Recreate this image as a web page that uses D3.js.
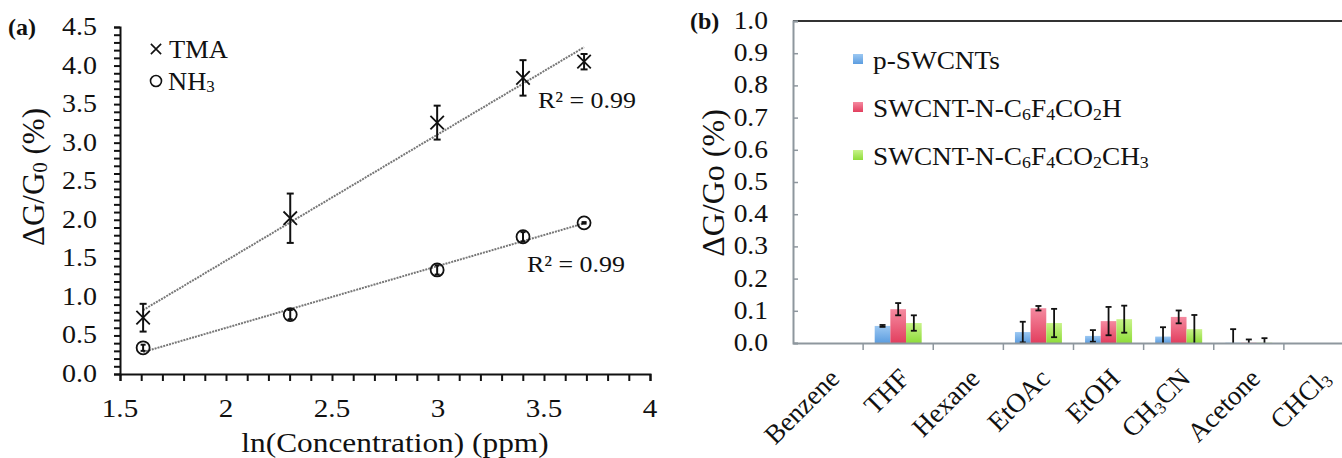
<!DOCTYPE html>
<html><head><meta charset="utf-8">
<script src="https://cdn.jsdelivr.net/npm/d3@7"></script>
<style>
html,body{margin:0;padding:0;background:#fff;}
svg{display:block;font-family:"Liberation Serif","Times New Roman",serif;}
</style></head>
<body>
<svg id="chart" width="1342" height="458"></svg>
<script>
// ---------- Panel (a) data ----------
const lnConc = [1.609, 2.303, 2.996, 3.401, 3.689];
const tmaY   = [0.73, 2.02, 3.26, 3.84, 4.05];
const tmaErr = [0.18, 0.32, 0.22, 0.23, 0.10];
const nh3Y   = [0.34, 0.77, 1.35, 1.78, 1.96];
const nh3Err = [0.04, 0.06, 0.06, 0.06, 0.01];
const aXTicks = [1.5, 2, 2.5, 3, 3.5, 4];
const aXTickLabels = ["1.5", "2", "2.5", "3", "3.5", "4"];
const aYTicks = [0, 0.5, 1, 1.5, 2, 2.5, 3, 3.5, 4, 4.5];
const aYTickLabels = ["0.0","0.5","1.0","1.5","2.0","2.5","3.0","3.5","4.0","4.5"];
const r2Labels = ["R² = 0.99", "R² = 0.99"];

// ---------- Panel (b) data ----------
const solvents = ["Benzene", "THF", "Hexane", "EtOAc", "EtOH", "CH3CN", "Acetone", "CHCl3"];
const seriesNames = ["p-SWCNTs", "SWCNT-N-C6F4CO2H", "SWCNT-N-C6F4CO2CH3"];
const pSWCNT    = [0, 0.053, 0, 0.034, 0.022, 0.020, 0.001, 0];
const swcntCOOH = [0, 0.105, 0, 0.108, 0.068, 0.081, 0.001, 0];
const swcntCOOMe= [0, 0.062, 0, 0.062, 0.074, 0.043, 0.001, 0];
const pSWCNTErr    = [null, 0.003, null, 0.032, 0.018, 0.029, 0.042, null];
const swcntCOOHErr = [null, 0.019, null, 0.007, 0.044, 0.020, 0.010, null];
const swcntCOOMeErr= [null, 0.024, null, 0.044, 0.042, 0.044, 0.014, null];
const bYTicks = [0,0.1,0.2,0.3,0.4,0.5,0.6,0.7,0.8,0.9,1.0];

const svg = d3.select("#chart");
const defs = svg.append("defs");

// helper: text with subscript digits (chemistry style)
function richText(sel, str, size, subSize){
  const parts = [];
  for (let i = 0; i < str.length; i++){
    const c = str[i];
    if (/[0-9]/.test(c) && i>0 && /[A-Za-z]/.test(str[i-1])){
      parts.push({t:c, sub:true});
    } else {
      if (parts.length && !parts[parts.length-1].sub) parts[parts.length-1].t += c;
      else parts.push({t:c, sub:false});
    }
  }
  let shifted = false;
  parts.forEach(p => {
    const ts = sel.append("tspan").text(p.t);
    if (p.sub){ ts.attr("font-size", subSize); if(!shifted){ts.attr("dy", size*0.12); shifted = true;} }
    else { ts.attr("font-size", size); if(shifted){ts.attr("dy", -size*0.12); shifted=false;} }
  });
}

// ======================= PANEL (a) =======================
const ax = d3.scaleLinear().domain([1.5, 4]).range([120, 650]);
const ay = d3.scaleLinear().domain([0, 4.5]).range([374, 27]);
const ga = svg.append("g");

const xAxisA = d3.axisBottom(ax).tickValues(d3.range(15, 41).map(d => d/10)).tickSize(7).tickFormat("");
const gxa = ga.append("g").attr("transform", `translate(0,${ay(0)})`).call(xAxisA);
gxa.select(".domain").attr("stroke", "#111").attr("stroke-width", 2);
gxa.selectAll(".tick line").attr("stroke", "#111").attr("stroke-width", 2);

const yAxisA = d3.axisLeft(ay).tickValues(d3.range(0, 46).map(d => d/10)).tickSize(6).tickFormat("");
const gya = ga.append("g").attr("transform", `translate(${ax(1.5)},0)`).call(yAxisA);
gya.select(".domain").attr("stroke", "#111").attr("stroke-width", 2);
gya.selectAll(".tick line").attr("stroke", "#111").attr("stroke-width", 2);

ga.selectAll(".xtl").data(aXTicks).enter().append("text")
  .attr("transform", d => `translate(${ax(d)},417) scale(1.12,1)`)
  .attr("text-anchor", "middle").attr("font-size", 26).attr("fill", "#111")
  .text((d,i) => aXTickLabels[i]);
ga.selectAll(".ytl").data(aYTicks).enter().append("text")
  .attr("transform", d => `translate(97,${ay(d)+8}) scale(1.12,1)`)
  .attr("text-anchor", "end").attr("font-size", 25).attr("fill", "#111")
  .text((d,i) => aYTickLabels[i]);

ga.append("text").attr("transform", "translate(395,452) scale(1.12,1)")
  .attr("text-anchor", "middle").attr("font-size", 28).attr("fill", "#111")
  .text("ln(Concentration) (ppm)");
const ytA = ga.append("text").attr("transform", "translate(44,177) rotate(-90)")
  .attr("text-anchor", "middle").attr("fill", "#111");
ytA.append("tspan").attr("font-size", 31).text("ΔG/G");
ytA.append("tspan").attr("font-size", 21).attr("dy", 3).text("0");
ytA.append("tspan").attr("font-size", 31).attr("dy", -3).text(" (%)");

svg.append("text").attr("x", 8).attr("y", 35).attr("font-size", 24).attr("font-weight", "bold")
  .attr("fill", "#111").text("(a)");

// regression lines (least squares on the data, as in the source spreadsheet)
function fit(xs, ys){
  const mx = d3.mean(xs), my = d3.mean(ys);
  let sxy = 0, sxx = 0;
  xs.forEach((x,i) => { sxy += (x-mx)*(ys[i]-my); sxx += (x-mx)*(x-mx); });
  const m = sxy/sxx; return {m, b: my - m*mx};
}
[tmaY, nh3Y].forEach(ys => {
  const f = fit(lnConc, ys);
  const x0 = d3.min(lnConc), x1 = d3.max(lnConc);
  ga.append("line").attr("x1", ax(x0)).attr("y1", ay(f.m*x0+f.b))
    .attr("x2", ax(x1)).attr("y2", ay(f.m*x1+f.b))
    .attr("stroke", "#777").attr("stroke-width", 2).attr("stroke-dasharray", "2,1");
});

function errBars(g, xs, ys, es, cap){
  xs.forEach((x,i) => {
    const top = ay(ys[i]+es[i]), bot = ay(ys[i]-es[i]), cx = ax(x);
    g.append("line").attr("x1",cx).attr("x2",cx).attr("y1",top).attr("y2",bot).attr("stroke","#111").attr("stroke-width",2);
    g.append("line").attr("x1",cx-cap).attr("x2",cx+cap).attr("y1",top).attr("y2",top).attr("stroke","#111").attr("stroke-width",2);
    g.append("line").attr("x1",cx-cap).attr("x2",cx+cap).attr("y1",bot).attr("y2",bot).attr("stroke","#111").attr("stroke-width",2);
  });
}
errBars(ga, lnConc, tmaY, tmaErr, 3.5);
errBars(ga, lnConc, nh3Y, nh3Err, 2.5);

const xSym = d3.symbol().type(d3.symbolTimes).size(120);
ga.selectAll(".tma").data(lnConc).enter().append("path")
  .attr("d", xSym).attr("transform", (d,i) => `translate(${ax(d)},${ay(tmaY[i])})`)
  .attr("fill", "none").attr("stroke", "#111").attr("stroke-width", 1.8);
ga.selectAll(".nh3").data(lnConc).enter().append("circle")
  .attr("cx", d => ax(d)).attr("cy", (d,i) => ay(nh3Y[i])).attr("r", 6.5)
  .attr("fill", "none").attr("stroke", "#111").attr("stroke-width", 1.8);

ga.append("text").attr("transform", "translate(538,108) scale(1.08,1)").attr("font-size", 24).attr("fill", "#111").text(r2Labels[0]);
ga.append("text").attr("transform", "translate(527,272) scale(1.08,1)").attr("font-size", 24).attr("fill", "#111").text(r2Labels[1]);

// legend (a)
ga.append("path").attr("d", d3.symbol().type(d3.symbolTimes).size(70)).attr("transform", "translate(156,49)")
  .attr("fill","none").attr("stroke","#111").attr("stroke-width",1.6);
ga.append("text").attr("transform", "translate(169,58) scale(1.06,1)").attr("font-size", 25).attr("fill","#111").text("TMA");
ga.append("circle").attr("cx",156).attr("cy",81).attr("r",5.5).attr("fill","none").attr("stroke","#111").attr("stroke-width",1.6);
const nl = ga.append("text").attr("transform", "translate(168,90) scale(1.06,1)").attr("fill","#111");
nl.append("tspan").attr("font-size",25).text("NH");
nl.append("tspan").attr("font-size",16).attr("dy",2).text("3");

// ======================= PANEL (b) =======================
const bx = d3.scaleBand().domain(solvents).range([793, 1354]).padding(0);
const by = d3.scaleLinear().domain([0, 1]).range([343, 21]);
const bw = bx.bandwidth();
const bSub = d3.scaleBand().domain(seriesNames).range([bw*0.165, bw*0.835]).padding(0);
const gb = svg.append("g");

const colors = [["#9cc8f2","#5c9de0"],["#f58aa0","#e23e5e"],["#c8f38a","#8fdc3a"]];
colors.forEach((c,i) => {
  const lg = defs.append("linearGradient").attr("id","grad"+i).attr("x1",0).attr("y1",0).attr("x2",0).attr("y2",1);
  lg.append("stop").attr("offset","0%").attr("stop-color",c[0]);
  lg.append("stop").attr("offset","100%").attr("stop-color",c[1]);
});
defs.append("clipPath").attr("id","bclip").append("rect").attr("x",793).attr("y",0).attr("width",560).attr("height",343);

gb.append("line").attr("x1",793).attr("x2",1342).attr("y1",by(1)).attr("y2",by(1)).attr("stroke","#333").attr("stroke-width",2.2);

const yAxisB = d3.axisRight(by).tickValues(bYTicks).tickSize(5).tickFormat("");
const gyb = gb.append("g").attr("transform","translate(793,0)").call(yAxisB);
gyb.select(".domain").attr("stroke","#8e979e").attr("stroke-width",2);
gyb.selectAll(".tick line").attr("stroke","#8e979e").attr("stroke-width",1.5);
gb.selectAll(".bytl").data(bYTicks).enter().append("text")
  .attr("transform", d => `translate(768,${by(d)+8}) scale(1.1,1)`)
  .attr("text-anchor","end").attr("font-size",25).attr("fill","#111")
  .text(d => d.toFixed(1));

const seriesVals = [pSWCNT, swcntCOOH, swcntCOOMe];
const seriesErrs = [pSWCNTErr, swcntCOOHErr, swcntCOOMeErr];
const bars = gb.append("g").attr("clip-path","url(#bclip)");
seriesVals.forEach((vals, si) => {
  bars.selectAll(".bar"+si).data(solvents).enter().append("rect")
    .attr("x", d => bx(d) + bSub(seriesNames[si]))
    .attr("width", bSub.bandwidth())
    .attr("y", (d,i) => by(vals[i]))
    .attr("height", (d,i) => by(0) - by(vals[i]))
    .attr("fill", `url(#grad${si})`);
});
seriesVals.forEach((vals, si) => {
  const errs = seriesErrs[si];
  solvents.forEach((s,i) => {
    if (errs[i] == null) return;
    const cx = bx(s) + bSub(seriesNames[si]) + bSub.bandwidth()/2;
    const top = by(vals[i]+errs[i]), bot = by(Math.max(0, vals[i]-errs[i]));
    bars.append("line").attr("x1",cx).attr("x2",cx).attr("y1",top).attr("y2",bot).attr("stroke","#111").attr("stroke-width",1.8);
    bars.append("line").attr("x1",cx-3).attr("x2",cx+3).attr("y1",top).attr("y2",top).attr("stroke","#111").attr("stroke-width",1.8);
    if (vals[i]-errs[i] > 0)
      bars.append("line").attr("x1",cx-3).attr("x2",cx+3).attr("y1",bot).attr("y2",bot).attr("stroke","#111").attr("stroke-width",1.8);
  });
});

const xAxisB = d3.axisBottom(bx).tickSize(0).tickFormat("");
const gxb = gb.append("g").attr("transform",`translate(0,${by(0)})`).call(xAxisB);
gxb.select(".domain").attr("stroke","#8e979e").attr("stroke-width",2);
const boundaries = solvents.map(s => bx(s)).slice(1);
gb.selectAll(".btick").data(boundaries).enter().append("line")
  .attr("x1", d => d).attr("x2", d => d).attr("y1", by(0)).attr("y2", by(0)+7)
  .attr("stroke","#8e979e").attr("stroke-width",1.5);

solvents.forEach(s => {
  const t = gb.append("text")
    .attr("transform", `translate(${bx(s)+bw/2+13},${by(0)+37}) rotate(-45)`)
    .attr("text-anchor","end").attr("fill","#111");
  richText(t, s, 27, 17);
});

const ytB = gb.append("text").attr("transform","translate(724,183) rotate(-90)")
  .attr("text-anchor","middle").attr("fill","#111");
ytB.append("tspan").attr("font-size",32).text("ΔG/Go (%)");

svg.append("text").attr("x",690).attr("y",29).attr("font-size",24).attr("font-weight","bold").attr("fill","#111").text("(b)");

const legY = [59, 107, 155];
seriesNames.forEach((n,i) => {
  gb.append("rect").attr("x",853).attr("y",legY[i]-5).attr("width",10).attr("height",10).attr("fill",`url(#grad${i})`);
  const t = gb.append("text").attr("transform",`translate(873,${legY[i]+10}) scale(1.05,1)`).attr("fill","#111");
  richText(t, n, 26, 17);
});
</script>
</body></html>
